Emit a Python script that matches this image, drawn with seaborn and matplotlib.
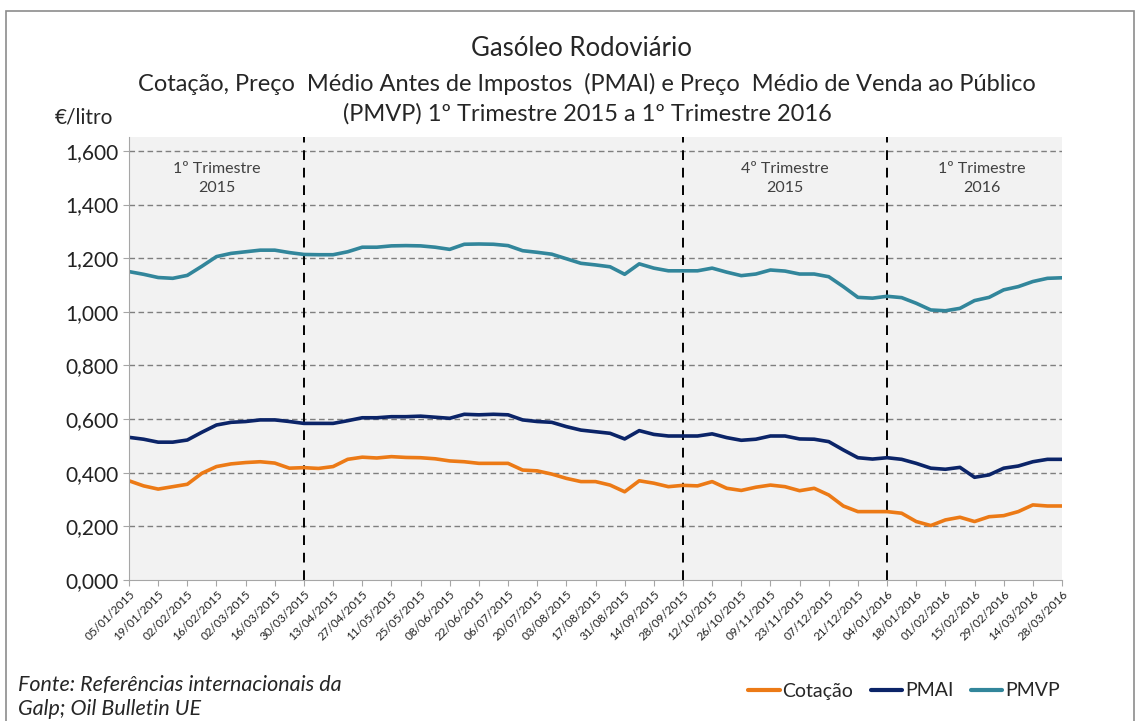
import numpy as np
import pandas as pd
import matplotlib
matplotlib.use("Agg")
import matplotlib.pyplot as plt
from matplotlib.lines import Line2D
from matplotlib.patches import Rectangle
import seaborn as sns

# semanas (segunda-feira) de 05/01/2015 a 28/03/2016
datas = pd.date_range("2015-01-05", "2016-03-28", freq="7D")

pmvp = [1.150, 1.140, 1.128, 1.125, 1.136, 1.170, 1.206, 1.218, 1.224, 1.230,
        1.230, 1.221, 1.214, 1.213, 1.213, 1.224, 1.241, 1.241, 1.246, 1.247,
        1.246, 1.241, 1.233, 1.252, 1.253, 1.252, 1.247, 1.228, 1.222, 1.215,
        1.198, 1.181, 1.175, 1.168, 1.140, 1.179, 1.163, 1.153, 1.153, 1.153,
        1.163, 1.148, 1.135, 1.141, 1.156, 1.152, 1.141, 1.141, 1.131, 1.094,
        1.054, 1.051, 1.058, 1.053, 1.032, 1.007, 1.004, 1.013, 1.042, 1.054,
        1.082, 1.094, 1.113, 1.125, 1.127]

pmai = [0.532, 0.525, 0.514, 0.514, 0.522, 0.551, 0.578, 0.588, 0.591, 0.597,
        0.597, 0.591, 0.584, 0.584, 0.584, 0.594, 0.605, 0.605, 0.609, 0.609,
        0.611, 0.607, 0.603, 0.618, 0.616, 0.618, 0.616, 0.597, 0.591, 0.588,
        0.572, 0.559, 0.553, 0.547, 0.526, 0.557, 0.543, 0.537, 0.537, 0.537,
        0.545, 0.531, 0.521, 0.525, 0.537, 0.537, 0.526, 0.525, 0.516, 0.485,
        0.456, 0.451, 0.456, 0.450, 0.435, 0.417, 0.413, 0.420, 0.383, 0.392,
        0.417, 0.425, 0.441, 0.450, 0.450]

cotacao = [0.370, 0.351, 0.339, 0.348, 0.357, 0.398, 0.423, 0.433, 0.438, 0.441,
           0.436, 0.417, 0.419, 0.416, 0.423, 0.450, 0.458, 0.455, 0.460, 0.457,
           0.456, 0.452, 0.444, 0.441, 0.435, 0.435, 0.435, 0.410, 0.407, 0.395,
           0.379, 0.367, 0.367, 0.354, 0.329, 0.370, 0.361, 0.348, 0.353, 0.351,
           0.367, 0.342, 0.334, 0.346, 0.354, 0.348, 0.333, 0.342, 0.317, 0.276,
           0.255, 0.255, 0.255, 0.249, 0.218, 0.203, 0.224, 0.234, 0.218, 0.236,
           0.240, 0.255, 0.280, 0.276, 0.276]

series = ["Cotação", "PMAI", "PMVP"]
cores = {"Cotação": "#EC7A16", "PMAI": "#0B2468", "PMVP": "#32869B"}

# limites dos trimestres (indices das semanas) e legendas
limites = [12, 38, 52]
trimestres = [("1º Trimestre\n2015", 6), ("4º Trimestre\n2015", 45), ("1º Trimestre\n2016", 58.5)]

df = pd.DataFrame({"semana": np.arange(len(datas)),
                   "Cotação": cotacao, "PMAI": pmai, "PMVP": pmvp})
df_long = df.melt(id_vars="semana", value_vars=series, var_name="serie", value_name="valor")

sns.set_style("white")
plt.rcParams["font.family"] = ["Lato", "DejaVu Sans"]

fig = plt.figure(figsize=(11.4, 7.21), dpi=100)
ax = fig.add_axes([129 / 1140, 1 - 580 / 721, (1062 - 129) / 1140, (580 - 137) / 721])
ax.set_facecolor("#F2F2F2")

sns.lineplot(data=df_long, x="semana", y="valor", hue="serie", palette=cores,
             linewidth=2.6, ax=ax, legend=False)

ax.set_xlim(0, len(datas) - 1)
ax.set_ylim(0, 1.652)
yt = np.arange(0, 1.61, 0.2)
ax.set_yticks(yt)
ax.set_yticklabels([f"{v:.3f}".replace(".", ",") for v in yt], fontsize=15, color="#222222")
for v in yt[1:]:
    ax.axhline(v, color="#7F7F7F", lw=1, ls=(0, (4, 2.5)), zorder=0.5)

xt = np.arange(0, len(datas), 2)
ax.set_xticks(xt)
ax.set_xticklabels([datas[i].strftime("%d/%m/%Y") for i in xt], rotation=45,
                   ha="right", rotation_mode="anchor", fontsize=8.5, color="#222222")
ax.tick_params(axis="both", length=4, color="#A6A6A6", direction="out", bottom=True, left=True)
ax.tick_params(axis="x", pad=2)

for i in limites:
    ax.axvline(i, color="black", lw=1.4, ls=(0, (5, 4)), zorder=1)
for txt, xpos in trimestres:
    ax.text(xpos, 1.56, txt, ha="center", va="top", fontsize=11.5, color="#404040",
            linespacing=1.5)

ax.set_xlabel("")
ax.set_ylabel("")
for s in ["top", "right"]:
    ax.spines[s].set_visible(False)
for s in ["left", "bottom"]:
    ax.spines[s].set_color("#A6A6A6")

fig.text(581 / 1140, 1 - 48 / 721, "Gasóleo Rodoviário", ha="center", va="center", fontsize=18.5)
fig.text(587 / 1140, 1 - 84 / 721,
         "Cotação, Preço  Médio Antes de Impostos  (PMAI) e Preço  Médio de Venda ao Público",
         ha="center", va="center", fontsize=17)
fig.text(587 / 1140, 1 - 114 / 721, "(PMVP) 1º Trimestre 2015 a 1º Trimestre 2016",
         ha="center", va="center", fontsize=17)
fig.text(55 / 1140, 1 - 118 / 721, "€/litro", ha="left", va="center", fontsize=15)

fig.text(18 / 1140, 1 - 697 / 721, "Fonte: Referências internacionais da\nGalp; Oil Bulletin UE",
         ha="left", va="center", fontsize=15.5, style="italic", linespacing=1.3)

handles = [Line2D([0], [0], color=cores[s], lw=3) for s in series]
fig.legend(handles, series, loc="center", bbox_to_anchor=(904 / 1140, 1 - 691 / 721),
           ncol=3, frameon=False, fontsize=14, handlelength=1.6, handletextpad=0.15,
           columnspacing=0.9)

fig.patches.append(Rectangle((6 / 1140, -0.01), 1128 / 1140, 1 - 11 / 721 + 0.01,
                             transform=fig.transFigure, fill=False, edgecolor="#8C8C8C",
                             lw=1.2))

fig.savefig("out.png", dpi=100)
